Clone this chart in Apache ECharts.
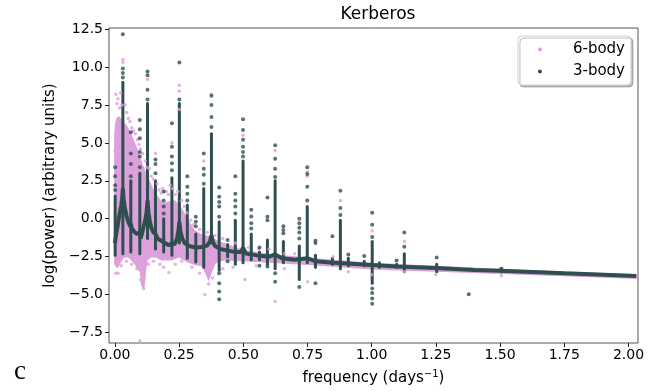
<!DOCTYPE html>
<html>
<head>
<meta charset="utf-8">
<script src="https://cdn.jsdelivr.net/npm/echarts@6/dist/echarts.min.js"></script>
<style>html,body{margin:0;padding:0;background:#fff}#c{width:652px;height:391px}</style>
</head>
<body>
<div id="c"></div>
<script>
// ---------- data ----------
const xTicks = [0, 0.25, 0.5, 0.75, 1.0, 1.25, 1.5, 1.75, 2.0];
const yTicks = [-7.5, -5.0, -2.5, 0.0, 2.5, 5.0, 7.5, 10.0, 12.5];

// 6-body: dense cloud envelope (frequency, log power)
const pinkUpperF = [0.000, 0.003, 0.008, 0.015, 0.025, 0.035, 0.045, 0.055, 0.065, 0.075, 0.085, 0.095, 0.105, 0.115, 0.125, 0.135, 0.145, 0.16, 0.175, 0.19, 0.21, 0.23, 0.25, 0.27, 0.29, 0.31, 0.34, 0.37, 0.40, 0.45, 0.50, 0.60, 0.75, 1.0, 1.5, 2.03];
const pinkUpperV = [5.5, 6.2, 6.6, 6.7, 6.5, 6.3, 6.1, 5.8, 5.4, 5.0, 4.6, 4.1, 3.6, 3.2, 2.8, 2.4, 2.0, 1.6, 1.2, 1.0, 1.1, 1.2, 0.9, 0.3, -0.3, -0.8, -1.1, -1.2, -1.5, -1.8, -2.1, -2.35, -2.6, -2.95, -3.35, -3.7];
const pinkLowerF = [0.000, 0.01, 0.02, 0.03, 0.04, 0.05, 0.06, 0.07, 0.08, 0.09, 0.10, 0.104, 0.108, 0.114, 0.118, 0.125, 0.14, 0.16, 0.18, 0.20, 0.22, 0.25, 0.28, 0.31, 0.34, 0.355, 0.365, 0.375, 0.39, 0.42, 0.50, 0.60, 0.75, 1.0, 1.5, 2.03];
const pinkLowerV = [-3.0, -3.2, -2.9, -2.6, -2.5, -2.5, -2.6, -2.8, -3.0, -3.3, -3.5, -4.3, -4.5, -4.4, -3.5, -2.7, -2.5, -2.5, -2.7, -2.7, -2.7, -2.5, -2.8, -3.0, -3.1, -3.6, -4.0, -3.5, -2.9, -2.7, -2.75, -2.85, -3.0, -3.3, -3.6, -3.92];
// 6-body: scattered points
const pinkDots = [
  [0.004,8.2],[0.008,7.6],[0.012,7.9],[0.018,7.3],[0.022,8.3],[0.027,7.5],[0.040,7.5],[0.046,7.0],[0.052,6.6],[0.058,6.4],
  [0.066,6.0],[0.072,5.8],[0.080,5.6],[0.088,5.2],[0.094,4.9],[0.100,4.6],[0.108,4.3],[0.118,3.8],[0.125,3.4],[0.134,3.3],
  [0.142,2.8],[0.150,2.6],[0.158,4.3],[0.165,2.3],[0.172,1.9],[0.180,1.7],[0.186,2.0],[0.200,1.8],[0.208,1.6],[0.215,2.2],
  [0.225,2.0],[0.235,1.6],[0.245,1.8],[0.260,1.2],[0.270,0.8],[0.280,0.4],[0.295,-0.1],[0.305,-0.4],[0.330,-0.7],[0.360,-0.9],
  [0.390,-1.1],[0.420,-1.3],[0.470,-1.6],[0.520,-1.9],[0.560,-2.0],[0.600,-2.0],[0.660,-2.3],[0.700,-2.3],[0.850,-2.5],
  [0.003,-3.6],[0.012,-3.6],[0.025,-3.1],[0.045,-2.8],[0.065,-3.0],[0.085,-3.3],[0.100,-4.0],[0.112,-4.6],[0.130,-3.0],[0.150,-2.8],
  [0.175,-3.0],[0.190,-3.2],[0.210,-3.55],[0.235,-3.0],[0.260,-2.8],[0.300,-3.2],[0.330,-3.6],[0.350,-5.0],[0.365,-4.3],[0.380,-3.9],
  [0.420,-3.3],[0.460,-3.2],[0.506,-4.0],[0.550,-3.1],[0.624,-5.46],[0.660,-3.3],[0.750,-4.15],[0.909,-3.5],[1.000,-3.7],[1.127,-3.5],
  [1.250,-3.7],[1.505,-3.75],[0.097,-8.05],
  [0.031,10.5],[0.031,10.3],[0.127,9.2],[0.251,8.8],[0.251,8.4],[0.251,7.2],[0.376,8.2],[0.499,5.5],[0.624,4.5],[0.749,3.1],
  [0.749,2.8],[0.000,4.5],[0.062,3.2],[0.222,5.0],[0.346,3.8],[0.878,1.2],[1.002,-0.8],[1.127,-1.5]
];

// 3-body: continuum (frequency, log power)
const baseF = [0.000, 0.005, 0.010, 0.015, 0.020, 0.025, 0.028, 0.031, 0.034, 0.038, 0.045, 0.052, 0.060, 0.062, 0.065, 0.075, 0.085, 0.092, 0.097, 0.100, 0.105, 0.112, 0.118, 0.123, 0.127, 0.131, 0.136, 0.142, 0.150, 0.158, 0.166, 0.180, 0.195, 0.210, 0.222, 0.232, 0.242, 0.248, 0.251, 0.255, 0.262, 0.272, 0.285, 0.300, 0.320, 0.345, 0.360, 0.370, 0.376, 0.382, 0.390, 0.410, 0.440, 0.470, 0.490, 0.499, 0.510, 0.550, 0.600, 0.624, 0.650, 0.700, 0.749, 0.780, 0.850, 0.900, 1.000, 1.100, 1.250, 1.400, 1.500, 1.750, 2.030];
const baseV = [-1.6, -1.0, -0.55, 0.0, 0.45, 0.9, 1.3, 2.0, 1.3, 0.8, 0.2, -0.2, -0.5, -0.3, -0.6, -0.85, -1.0, -1.1, -0.9, -1.3, -1.0, -0.5, -0.1, 0.4, 1.2, 0.4, -0.2, -0.6, -0.9, -1.0, -1.3, -1.45, -1.6, -1.75, -1.6, -1.7, -1.3, -0.7, -0.2, -0.8, -1.3, -1.6, -1.75, -1.85, -1.9, -1.85, -1.75, -1.5, -1.1, -1.55, -1.8, -2.0, -2.1, -2.2, -2.2, -1.9, -2.3, -2.4, -2.5, -2.35, -2.6, -2.7, -2.6, -2.8, -2.9, -2.95, -3.05, -3.15, -3.25, -3.38, -3.43, -3.6, -3.78];
// 3-body: dense harmonic columns (frequency, lowest, highest)
const spikeF  = [0.001, 0.031, 0.062, 0.097, 0.127, 0.158, 0.190, 0.222, 0.251, 0.282, 0.315, 0.346, 0.376, 0.406, 0.439, 0.469, 0.499, 0.531, 0.563, 0.594, 0.624, 0.656, 0.718, 0.749, 0.781, 0.847, 0.878, 0.909, 0.971, 1.002, 1.030, 1.097, 1.127, 1.253, 1.505];
const spikeLo = [-2.4, -2.3, -2.2, -2.3, -1.3, -2.0, -2.2, -2.4, -1.6, -2.6, -2.85, -3.2, -1.6, -3.4, -2.5, -3.0, -2.9, -2.7, -2.7, -3.0, -3.3, -2.9, -4.0, -2.9, -3.2, -3.0, -3.3, -3.1, -3.1, -4.25, -3.2, -3.2, -3.5, -3.5, -3.5];
const spikeHi = [1.5, 9.0, 2.5, 3.0, 7.6, 2.5, 0.0, 2.7, 7.6, 0.9, -1.0, 2.0, 5.6, -0.2, -1.7, -0.1, 3.8, -1.0, -2.2, -1.4, 2.5, -1.5, -1.8, 0.8, -2.4, -2.6, -0.1, -2.6, -2.8, -1.5, -2.9, -3.0, -2.3, -3.0, -3.3];
// 3-body: sparse points above / below the columns
const darkDots = [
  [0.001,3.4],[0.001,2.8],[0.001,2.2],[0.001,1.9],
  [0.031,9.3],[0.031,9.6],[0.031,9.9],[0.031,12.15],
  [0.062,2.8],[0.062,3.6],[0.062,4.3],[0.062,5.7],
  [0.097,3.4],[0.097,4.1],[0.097,4.4],[0.097,5.3],[0.097,5.9],[0.097,6.5],
  [0.127,7.85],[0.127,8.5],[0.127,9.45],[0.127,9.7],
  [0.158,3.0],[0.158,3.6],[0.158,3.9],
  [0.190,0.35],[0.190,0.8],[0.190,1.2],[0.190,1.8],
  [0.222,3.2],[0.222,3.65],[0.222,4.1],[0.222,4.75],[0.222,6.3],
  [0.251,7.85],[0.251,10.3],
  [0.282,1.2],[0.282,1.65],[0.282,2.1],[0.282,2.8],
  [0.315,0.13],[0.315,-0.2],[0.315,-0.5],
  [0.346,2.3],[0.346,2.9],[0.346,3.3],[0.346,4.3],
  [0.376,6.05],[0.376,6.7],[0.376,7.5],[0.376,8.1],
  [0.406,0.13],[0.406,0.8],[0.406,1.1],[0.406,1.45],[0.406,2.05],[0.406,-3.6],[0.406,-4.25],[0.406,-4.8],[0.406,-5.3],
  [0.439,-1.4],[0.439,-2.8],
  [0.469,0.35],[0.469,0.8],[0.469,1.2],[0.469,1.65],[0.469,2.8],
  [0.499,4.1],[0.499,4.4],[0.499,4.75],[0.499,5.2],[0.499,5.85],[0.499,6.55],
  [0.531,-0.65],[0.531,-0.3],[0.531,0.15],[0.531,0.6],
  [0.563,-3.1],[0.563,-1.9],
  [0.594,-0.1],[0.594,0.13],[0.594,1.4],[0.594,-3.15],
  [0.624,2.75],[0.624,3.3],[0.624,3.95],[0.624,4.85],[0.624,-3.6],[0.624,-4.15],
  [0.656,-0.95],[0.656,-0.75],[0.656,-0.5],
  [0.718,-1.3],[0.718,-0.9],[0.718,-0.6],[0.718,-0.3],[0.718,0.0],[0.718,-4.5],
  [0.749,1.2],[0.749,2.1],[0.749,2.95],[0.749,3.4],
  [0.781,-1.45],[0.781,-1.6],[0.781,-4.25],
  [0.847,-1.15],
  [0.878,0.25],[0.878,0.7],[0.878,1.85],
  [0.909,-2.35],[0.971,-2.45],
  [1.002,-1.2],[1.002,-0.4],[1.002,0.4],[1.002,-4.6],[1.002,-4.9],[1.002,-5.25],[1.002,-5.6],
  [1.097,-2.75],[1.127,-1.85],[1.127,-0.9],[1.253,-2.55],[1.378,-4.98],[1.505,-3.3]
];

// ---------- chart ----------
const PINK = '#dda0dd';
const DARK = '#2f4f4f';
const FONT = 'DejaVu Sans';
const minus = s => s.replace('-', '\u2212');

const chart = echarts.init(document.getElementById('c'), null, {renderer: 'canvas'});

chart.setOption({
  animation: false,
  backgroundColor: '#fff',
  title: {
    text: 'Kerberos', left: 373, top: 1, textAlign: 'center',
    textStyle: {fontFamily: FONT, fontSize: 17, fontWeight: 'normal', color: '#000'}
  },
  legend: {
    right: 21, top: 36, orient: 'vertical', itemGap: 7,
    padding: [6, 6, 6, 20],
    backgroundColor: '#fff', borderColor: '#d0d0d0', borderWidth: 1, borderRadius: 4,
    shadowColor: 'rgba(0,0,0,0.25)', shadowOffsetX: 2, shadowOffsetY: 2, shadowBlur: 0,
    itemWidth: 4, itemHeight: 4,
    textStyle: {fontFamily: FONT, fontSize: 15, color: '#000', padding: [0, 0, 0, 26]},
    data: [
      {name: '6-body', icon: 'circle', itemStyle: {color: PINK}},
      {name: '3-body', icon: 'circle', itemStyle: {color: DARK}}
    ]
  },
  grid: {left: 109, right: 14, top: 28, bottom: 48, show: true, borderColor: '#555', borderWidth: 1, backgroundColor: 'transparent'},
  xAxis: {
    type: 'value', min: -0.023, max: 2.037,
    name: 'frequency (days{sup|\u22121})', nameLocation: 'middle', nameGap: 26,
    nameTextStyle: {fontFamily: FONT, fontSize: 15, color: '#000',
      rich: {sup: {fontFamily: FONT, fontSize: 10, color: '#000', verticalAlign: 'top', padding: [0, 0, 8, 0]}}},
    axisLine: {show: false, onZero: false},
    splitLine: {show: false},
    axisTick: {show: true, customValues: xTicks, length: 4, lineStyle: {color: '#222'}},
    axisLabel: {customValues: xTicks, formatter: v => v.toFixed(2), fontFamily: FONT, fontSize: 14, color: '#000', margin: 5}
  },
  yAxis: {
    type: 'value', min: -8.19, max: 12.57,
    name: 'log(power) (arbitrary units)', nameLocation: 'middle', nameGap: 43,
    nameTextStyle: {fontFamily: FONT, fontSize: 15, color: '#000'},
    axisLine: {show: false, onZero: false},
    splitLine: {show: false},
    axisTick: {show: true, customValues: yTicks, length: 4, lineStyle: {color: '#222'}},
    axisLabel: {customValues: yTicks, formatter: v => minus(v.toFixed(1)), fontFamily: FONT, fontSize: 14, color: '#000', margin: 6}
  },
  graphic: [{
    type: 'text', left: 14, top: 358,
    style: {text: 'c', fontFamily: 'Liberation Serif', fontSize: 27, fill: '#000'}
  }],
  series: [
    {
      name: '6-body', type: 'custom', clip: true, silent: true,
      data: [[0, 0]],
      renderItem: function (params, api) {
        const pts = [];
        for (let i = 0; i < pinkUpperF.length; i++) pts.push(api.coord([pinkUpperF[i], pinkUpperV[i]]));
        for (let i = pinkLowerF.length - 1; i >= 0; i--) pts.push(api.coord([pinkLowerF[i], pinkLowerV[i]]));
        return {type: 'polygon', shape: {points: pts}, style: {fill: PINK, stroke: PINK, lineWidth: 1.5}};
      }
    },
    {
      name: '6-body', type: 'scatter', data: pinkDots, symbolSize: 3.5,
      itemStyle: {color: PINK}, silent: true
    },
    {
      name: '3-body', type: 'line', data: baseF.map((f, i) => [f, baseV[i]]),
      showSymbol: false, symbol: 'none', lineStyle: {color: DARK, width: 4}, itemStyle: {color: DARK}, silent: true
    },
    {
      name: '3-body', type: 'custom', clip: true, silent: true,
      data: spikeF.map((f, i) => [f, spikeLo[i], spikeHi[i]]),
      renderItem: function (params, api) {
        const a = api.coord([api.value(0), api.value(1)]);
        const b = api.coord([api.value(0), api.value(2)]);
        return {type: 'line', shape: {x1: a[0], y1: a[1], x2: b[0], y2: b[1]},
          style: {stroke: DARK, lineWidth: 3, lineCap: 'round'}};
      }
    },
    {
      name: '3-body', type: 'scatter', data: darkDots, symbolSize: 4,
      itemStyle: {color: DARK}, silent: true
    }
  ]
});
</script>
</body>
</html>
